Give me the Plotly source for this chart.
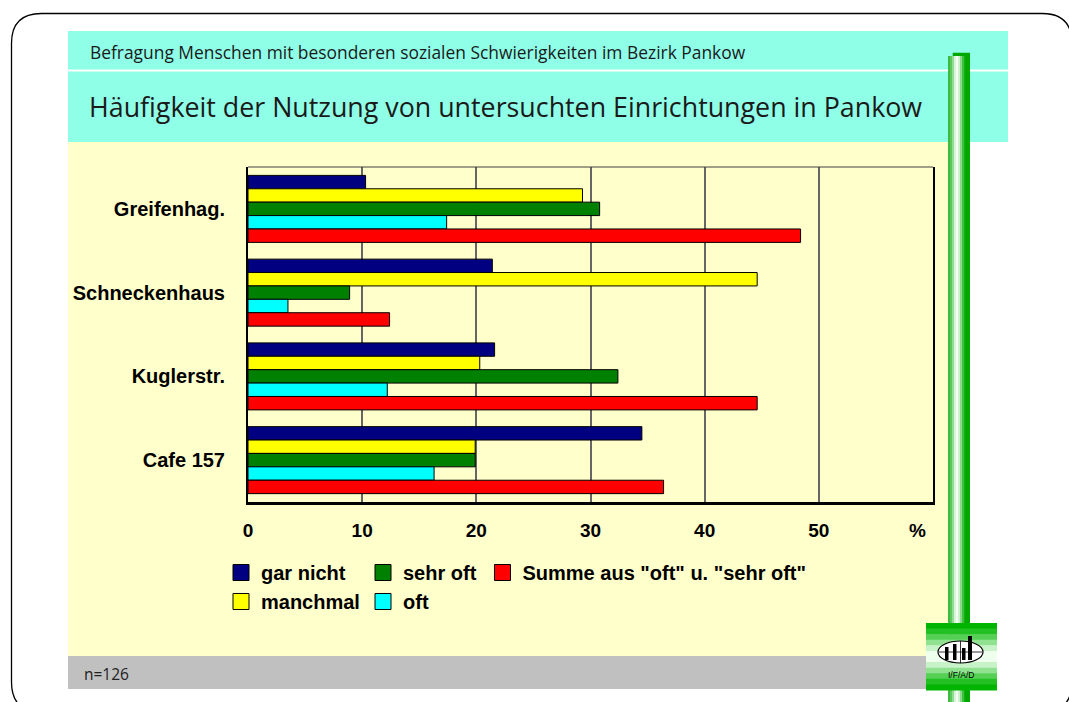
import plotly.graph_objects as go

# ---------------- data ----------------
categories = ["Greifenhag.", "Schneckenhaus", "Kuglerstr.", "Cafe 157"]
gar_nicht = [10.3, 21.4, 21.6, 34.5]
manchmal = [29.3, 44.6, 20.3, 19.9]
sehr_oft = [30.8, 8.9, 32.4, 19.9]
oft = [17.4, 3.5, 12.2, 16.3]
summe = [48.4, 12.4, 44.6, 36.4]
series_names = ["gar nicht", "manchmal", "sehr oft", "oft", 'Summe aus "oft" u. "sehr oft"']
series_values = [gar_nicht, manchmal, sehr_oft, oft, summe]
series_colors = ["#000080", "#FFFF00", "#008000", "#00FFFF", "#FF0000"]
series_legends = ["legend", "legend", "legend2", "legend2", "legend3"]
x_tick_values = [0, 10, 20, 30, 40, 50]
x_tick_labels = ["0", "10", "20", "30", "40", "50"]
x_max = 60

subtitle = "Befragung Menschen mit besonderen sozialen Schwierigkeiten im Bezirk Pankow"
title = "Häufigkeit der Nutzung von untersuchten Einrichtungen in Pankow"
footnote = "n=126"

# ---------------- geometry helpers ----------------
W, H = 1069, 702
PL, PR, PT, PB = 248, 933, 167, 502


def px(x):
    return (x - PL) / (PR - PL)


def py(y):
    return (PB - y) / (PB - PT)


def rect(x0, y0, x1, y1, fill, line=None, lw=0, layer="below"):
    return dict(type="rect", xref="paper", yref="paper", x0=px(x0), x1=px(x1),
                y0=py(y1), y1=py(y0), fillcolor=fill,
                line=dict(color=line or fill, width=lw), layer=layer)


def rrect_path(x0, y0, x1, y1, r):
    pts = []
    pts.append(f"M{px(x0 + r)},{py(y0)}")
    pts.append(f"L{px(x1 - r)},{py(y0)}")
    pts.append(f"Q{px(x1)},{py(y0)} {px(x1)},{py(y0 + r)}")
    pts.append(f"L{px(x1)},{py(y1 - r)}")
    pts.append(f"Q{px(x1)},{py(y1)} {px(x1 - r)},{py(y1)}")
    pts.append(f"L{px(x0 + r)},{py(y1)}")
    pts.append(f"Q{px(x0)},{py(y1)} {px(x0)},{py(y1 - r)}")
    pts.append(f"L{px(x0)},{py(y0 + r)}")
    pts.append(f"Q{px(x0)},{py(y0)} {px(x0 + r)},{py(y0)}")
    pts.append("Z")
    return " ".join(pts)


shapes = []
# outer rounded frame
shapes.append(dict(type="path", xref="paper", yref="paper",
                   path=rrect_path(11.5, 13.5, 1072, 712, 30),
                   fillcolor="white", line=dict(color="black", width=1.3), layer="below"))
# header band
shapes.append(rect(68, 31, 1008, 142, "#90FFE8"))
shapes.append(rect(68, 69.5, 1008, 71.5, "white"))
# body and footer
shapes.append(rect(68, 142, 948, 656, "#FFFFCC"))
shapes.append(rect(68, 656, 948, 689, "#C0C0C0"))

# vertical green bar: darker back strip + gradient front made of narrow strips
shapes.append(rect(952.7, 52.7, 970, 703, "#00A800"))
bar_cols = ["#3CBC3C", "#5CC85C", "#90DC90", "#D8F4D8", "#F4FFF4", "#D0F0D0", "#8CD88C", "#40C040"]
for i, c in enumerate(bar_cols):
    shapes.append(rect(948 + 2 * i, 56, 948 + 2 * (i + 1) + 0.3, 703, c))

# logo box (vertical gradient)
logo_cols = ["#00B400", "#22C022", "#55D055", "#90E290", "#C8F2C8", "#EEFFEE",
             "#EEFFEE", "#C8F2C8", "#90E290", "#55D055", "#22C022", "#00B400"]
lt, lb = 623, 690
step = (lb - lt) / len(logo_cols)
for i, c in enumerate(logo_cols):
    shapes.append(rect(926, lt + i * step, 997, lt + (i + 1) * step + 0.5, c))
shapes.append(dict(type="circle", xref="paper", yref="paper",
                   x0=px(938), x1=px(983), y0=py(663), y1=py(641),
                   fillcolor="white", line=dict(color="black", width=1.2), layer="below"))
shapes.append(dict(type="line", xref="paper", yref="paper", x0=px(939), x1=px(982),
                   y0=py(652), y1=py(652), line=dict(color="black", width=0.8), layer="below"))
shapes.append(dict(type="line", xref="paper", yref="paper", x0=px(960.5), x1=px(960.5),
                   y0=py(641), y1=py(663), line=dict(color="black", width=0.8), layer="below"))
for (bx0, bx1, btop) in [(945, 948.5, 647), (953, 956.5, 644), (962, 965.5, 648), (968, 972, 636)]:
    shapes.append(rect(bx0, btop, bx1, 660, "black"))

# thin top frame line of plot area
shapes.append(dict(type="line", xref="paper", yref="paper", x0=0, x1=1, y0=1, y1=1,
                   line=dict(color="#404040", width=1), layer="above"))

# ---------------- traces ----------------
fig = go.Figure()
for name, vals, col, leg in zip(series_names, series_values, series_colors, series_legends):
    fig.add_trace(go.Bar(
        y=categories, x=vals, orientation="h", name=name,
        marker=dict(color=col, line=dict(color="black", width=1)),
        showlegend=False, hoverinfo="x+y"))
for name, col, leg in zip(series_names, series_colors, series_legends):
    fig.add_trace(go.Scatter(
        x=[None], y=[None], mode="markers", name=name, legend=leg,
        marker=dict(symbol="square", size=16, color=col, line=dict(color="black", width=1)),
        showlegend=True))

font_bold = dict(family="Liberation Sans, Arial, sans-serif", color="black", weight="bold")
leg_common = dict(bgcolor="rgba(0,0,0,0)", font=dict(size=20, **font_bold),
                  orientation="v", xanchor="left", yanchor="top",
                  traceorder="normal", itemsizing="trace", tracegroupgap=0)

annotations = [
    dict(text=subtitle, xref="paper", yref="paper", x=px(88), y=py(51.5),
         xanchor="left", yanchor="middle", showarrow=False,
         font=dict(family="Open Sans, sans-serif", size=17.4, color="#1a1a1a")),
    dict(text=title, xref="paper", yref="paper", x=px(87), y=py(106),
         xanchor="left", yanchor="middle", showarrow=False,
         font=dict(family="Open Sans, sans-serif", size=26.8, color="#1a1a1a")),
    dict(text=footnote, xref="paper", yref="paper", x=px(82), y=py(674),
         xanchor="left", yanchor="middle", showarrow=False,
         font=dict(family="Open Sans, sans-serif", size=15.5, color="#222222")),
    dict(text="%", xref="paper", yref="paper", x=px(917.5), y=py(530),
         xanchor="center", yanchor="middle", showarrow=False,
         font=dict(size=19, **font_bold)),
    dict(text="I/F/A/D", xref="paper", yref="paper", x=px(961), y=py(675),
         xanchor="center", yanchor="middle", showarrow=False,
         font=dict(family="Liberation Sans, Arial, sans-serif", size=8.5, color="black")),
]

fig.update_layout(
    width=W, height=H,
    margin=dict(l=PL, r=W - PR, t=PT, b=H - PB, autoexpand=False),
    paper_bgcolor="white", plot_bgcolor="rgba(0,0,0,0)",
    barmode="group", bargap=0.2, bargroupgap=0,
    shapes=shapes, annotations=annotations,
    legend=dict(x=px(221), y=py(553), **leg_common),
    legend2=dict(x=px(363), y=py(553), **leg_common),
    legend3=dict(x=px(482.5), y=py(553), **leg_common),
    xaxis=dict(range=[0, x_max], tickmode="array", tickvals=x_tick_values, ticktext=x_tick_labels,
               showgrid=True, gridcolor="#666666", gridwidth=1.5,
               showline=True, linecolor="black", linewidth=2.5, mirror=False,
               ticks="outside", ticklen=9, tickcolor="rgba(0,0,0,0)",
               tickfont=dict(size=19, **font_bold), zeroline=False, fixedrange=True),
    yaxis=dict(type="category", categoryarray=categories, autorange="reversed",
               showgrid=False, showline=True, linecolor="black", linewidth=2, mirror=True,
               ticks="outside", ticklen=17, tickcolor="rgba(0,0,0,0)",
               tickfont=dict(size=20, **font_bold), fixedrange=True),
    showlegend=True,
)

fig.write_html("out.html", config={"displayModeBar": False},
               post_script="document.body.style.margin='0';document.body.style.overflow='hidden';")
